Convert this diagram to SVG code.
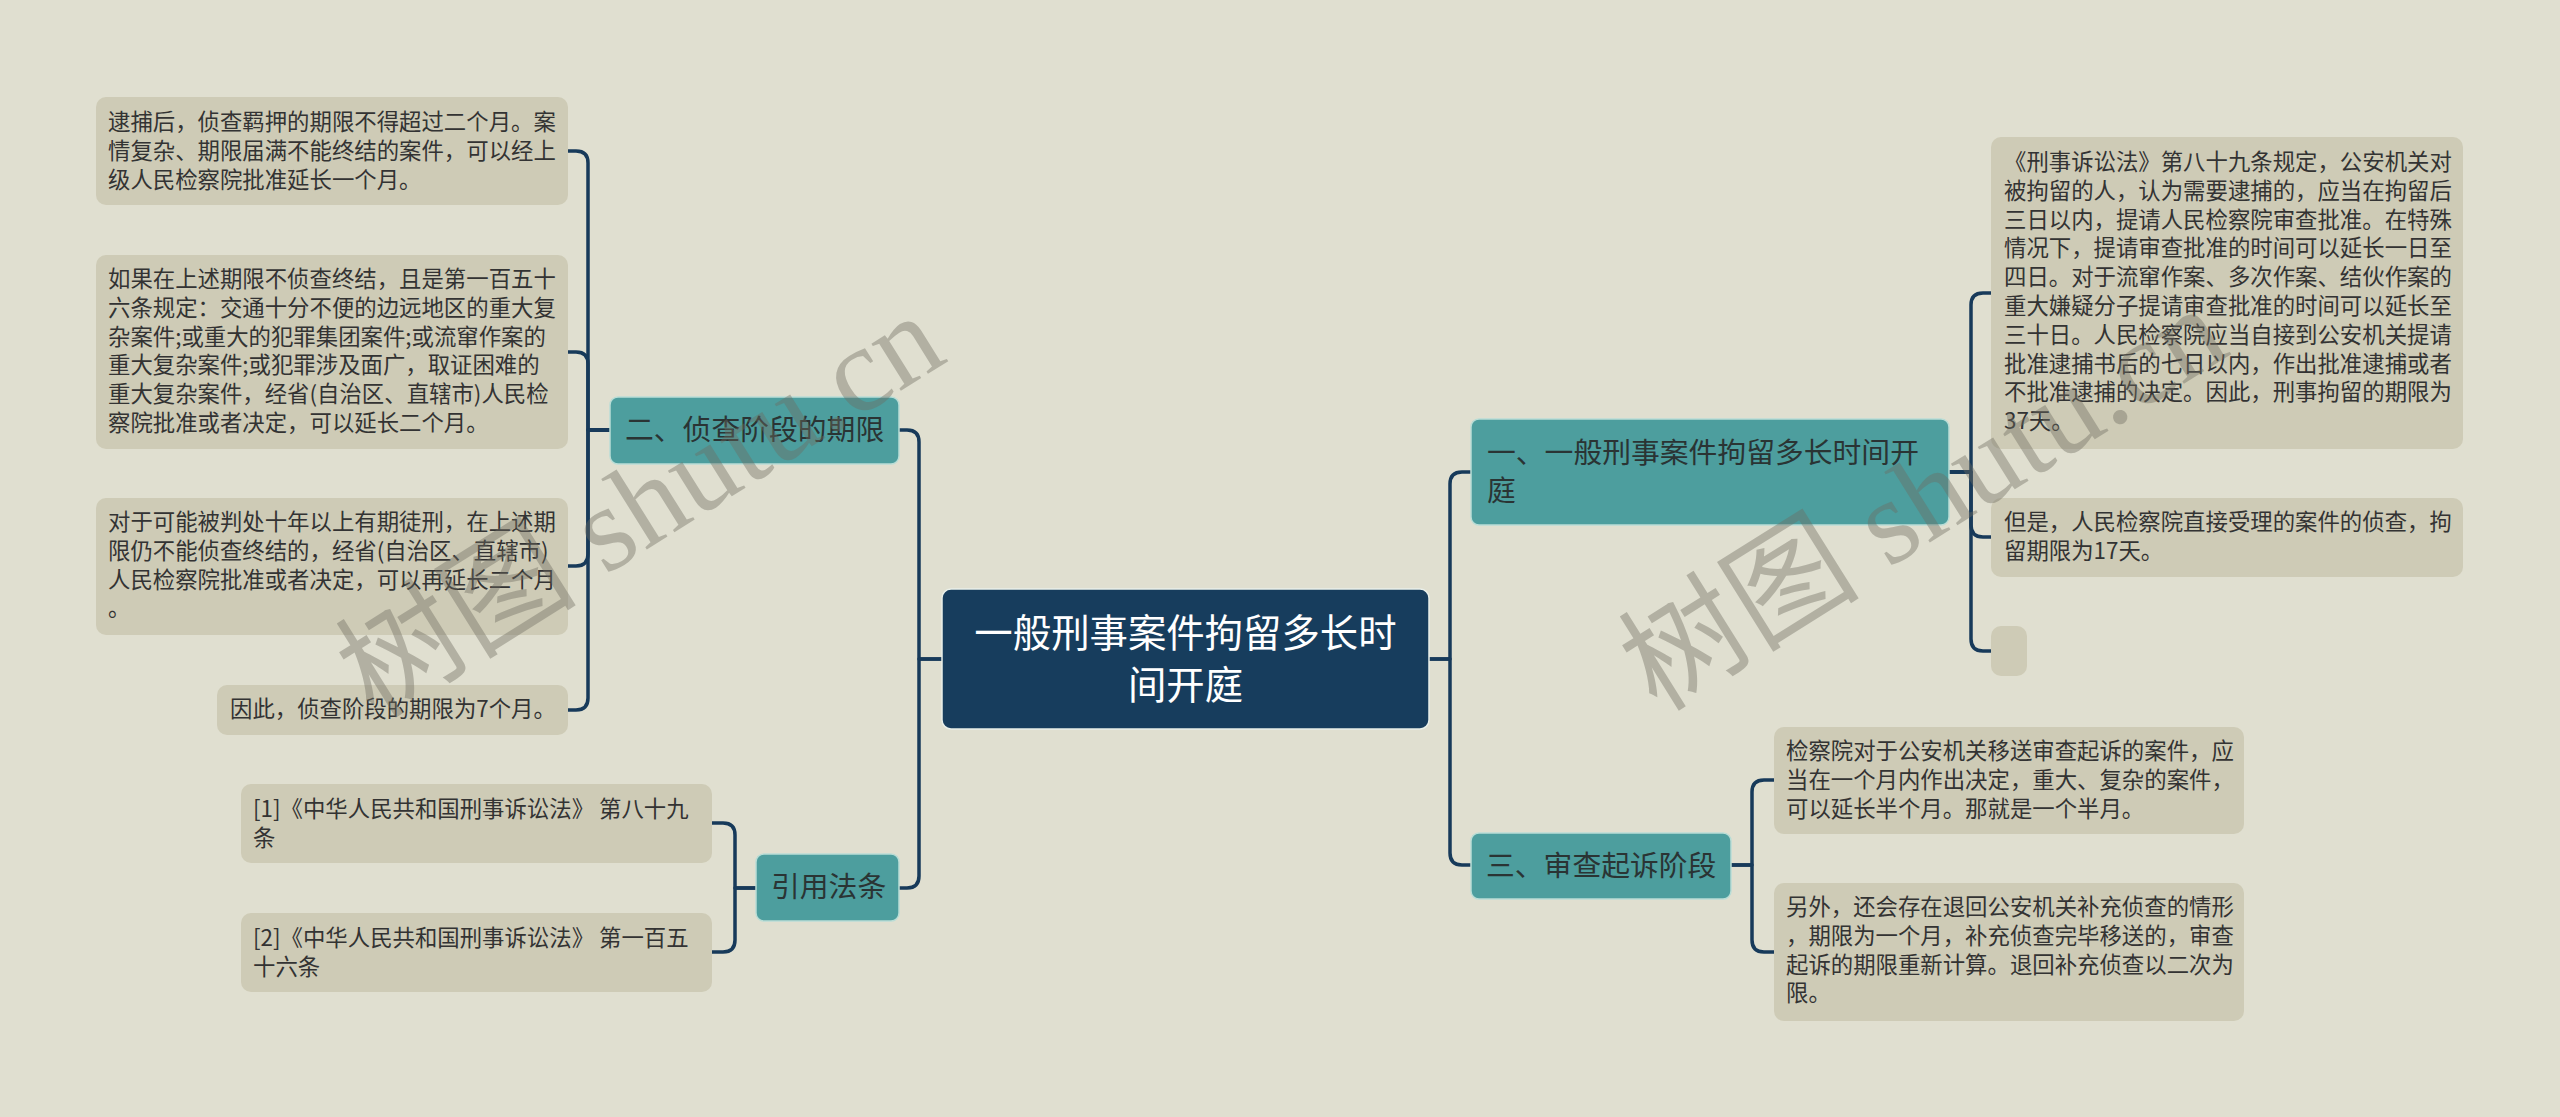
<svg xmlns="http://www.w3.org/2000/svg" width="2560" height="1117" viewBox="0 0 2560 1117">
<style>
.bg{fill:#e0dfd0}
.leaf rect{fill:#cecbb6}
.leaf text{font-family:"Noto Sans CJK SC","Noto Sans",sans-serif;font-size:22.4px;fill:#333333}
.branch rect{fill:#4d9e9e;stroke:#b9ddd6;stroke-width:1.5}
.branch text{font-family:"Noto Sans CJK SC","Noto Sans",sans-serif;font-size:28.8px;fill:#2a3434}
.root rect{fill:#173d5d;stroke:#e9efe9;stroke-width:1.5}
.root text{font-family:"Noto Sans CJK SC","Noto Sans",sans-serif;font-size:38.4px;fill:#ffffff;text-anchor:middle}
.conn path{fill:none;stroke:#173a5a;stroke-width:3.5;stroke-linecap:round;stroke-linejoin:round}
.wm{font-family:"Liberation Serif","Noto Sans CJK SC",serif;font-size:121px;fill:#6e6c60;opacity:0.4}
</style>
<rect class="bg" x="0" y="0" width="2560" height="1117"/>

<g id="connectors" class="conn">
<path d="M942 659 H919 V442 Q919 430 907 430 H899"/>
<path d="M942 659 H919 V876 Q919 888 907 888 H898"/>
<path d="M1429 659 H1450 V484 Q1450 472 1462 472 H1471"/>
<path d="M1429 659 H1450 V853 Q1450 865 1462 865 H1471"/>
<path d="M610 430 H588 V163 Q588 151 576 151 H568"/>
<path d="M610 430 H588 V364 Q588 352 576 352 H568"/>
<path d="M610 430 H588 V554 Q588 566 576 566 H568"/>
<path d="M610 430 H588 V698 Q588 710 576 710 H568"/>
<path d="M756 888 H735 V835 Q735 823 723 823 H712"/>
<path d="M756 888 H735 V940 Q735 952 723 952 H712"/>
<path d="M1949 472 H1971 V305 Q1971 293 1983 293 H1991"/>
<path d="M1949 472 H1971 V525 Q1971 537 1983 537 H1991"/>
<path d="M1949 472 H1971 V639 Q1971 651 1983 651 H1991"/>
<path d="M1731 865 H1752 V792 Q1752 780 1764 780 H1774"/>
<path d="M1731 865 H1752 V940 Q1752 952 1764 952 H1774"/>
</g>

<g id="root" class="root">
<rect x="942" y="589" width="487" height="140" rx="9"/>
<text x="1185.5" y="647">一般刑事案件拘留多长时</text>
<text x="1185.5" y="699">间开庭</text>
</g>

<g id="branch-2" class="branch">
<rect x="610" y="397" width="289" height="67" rx="8"/>
<text x="625" y="440">二、侦查阶段的期限</text>
</g>
<g id="branch-ref" class="branch">
<rect x="756" y="854" width="143" height="67" rx="8"/>
<text x="771" y="897">引用法条</text>
</g>
<g id="branch-1" class="branch">
<rect x="1471" y="419" width="478" height="106" rx="8"/>
<text x="1487" y="463">一、一般刑事案件拘留多长时间开</text>
<text x="1487" y="501">庭</text>
</g>
<g id="branch-3" class="branch">
<rect x="1471" y="833" width="260" height="66" rx="8"/>
<text x="1486" y="876">三、审查起诉阶段</text>
</g>

<g id="leaf-l1" class="leaf">
<rect x="96" y="97" width="472" height="108" rx="10"/>
<text x="108" y="130">逮捕后，侦查羁押的期限不得超过二个月。案</text>
<text x="108" y="158.8">情复杂、期限届满不能终结的案件，可以经上</text>
<text x="108" y="187.6">级人民检察院批准延长一个月。</text>
</g>
<g id="leaf-l2" class="leaf">
<rect x="96" y="255" width="472" height="194" rx="10"/>
<text x="108" y="287">如果在上述期限不侦查终结，且是第一百五十</text>
<text x="108" y="315.8">六条规定：交通十分不便的边远地区的重大复</text>
<text x="108" y="344.6">杂案件;或重大的犯罪集团案件;或流窜作案的</text>
<text x="108" y="373.4">重大复杂案件;或犯罪涉及面广，取证困难的</text>
<text x="108" y="402.2">重大复杂案件，经省(自治区、直辖市)人民检</text>
<text x="108" y="431">察院批准或者决定，可以延长二个月。</text>
</g>
<g id="leaf-l3" class="leaf">
<rect x="96" y="498" width="472" height="137" rx="10"/>
<text x="108" y="530">对于可能被判处十年以上有期徒刑，在上述期</text>
<text x="108" y="558.8">限仍不能侦查终结的，经省(自治区、直辖市)</text>
<text x="108" y="587.6">人民检察院批准或者决定，可以再延长二个月</text>
<text x="108" y="616.4">。</text>
</g>
<g id="leaf-l4" class="leaf">
<rect x="217" y="685" width="351" height="50" rx="10"/>
<text x="230" y="717">因此，侦查阶段的期限为7个月。</text>
</g>
<g id="leaf-ref1" class="leaf">
<rect x="241" y="784" width="471" height="79" rx="10"/>
<text x="253" y="817">[1]《中华人民共和国刑事诉讼法》 第八十九</text>
<text x="253" y="845.8">条</text>
</g>
<g id="leaf-ref2" class="leaf">
<rect x="241" y="913" width="471" height="79" rx="10"/>
<text x="253" y="946">[2]《中华人民共和国刑事诉讼法》 第一百五</text>
<text x="253" y="974.8">十六条</text>
</g>

<g id="leaf-r1" class="leaf">
<rect x="1991" y="137" width="472" height="312" rx="10"/>
<text x="2004" y="170">《刑事诉讼法》第八十九条规定，公安机关对</text>
<text x="2004" y="198.8">被拘留的人，认为需要逮捕的，应当在拘留后</text>
<text x="2004" y="227.6">三日以内，提请人民检察院审查批准。在特殊</text>
<text x="2004" y="256.4">情况下，提请审查批准的时间可以延长一日至</text>
<text x="2004" y="285.2">四日。对于流窜作案、多次作案、结伙作案的</text>
<text x="2004" y="314">重大嫌疑分子提请审查批准的时间可以延长至</text>
<text x="2004" y="342.8">三十日。人民检察院应当自接到公安机关提请</text>
<text x="2004" y="371.6">批准逮捕书后的七日以内，作出批准逮捕或者</text>
<text x="2004" y="400.4">不批准逮捕的决定。因此，刑事拘留的期限为</text>
<text x="2004" y="429.2">37天。</text>
</g>
<g id="leaf-r2" class="leaf">
<rect x="1991" y="498" width="472" height="79" rx="10"/>
<text x="2004" y="530">但是，人民检察院直接受理的案件的侦查，拘</text>
<text x="2004" y="558.8">留期限为17天。</text>
</g>
<g id="leaf-r3" class="leaf">
<rect x="1991" y="626" width="36" height="50" rx="10"/>
</g>
<g id="leaf-r4" class="leaf">
<rect x="1774" y="727" width="470" height="107" rx="10"/>
<text x="1786" y="759">检察院对于公安机关移送审查起诉的案件，应</text>
<text x="1786" y="787.8">当在一个月内作出决定，重大、复杂的案件，</text>
<text x="1786" y="816.6">可以延长半个月。那就是一个半月。</text>
</g>
<g id="leaf-r5" class="leaf">
<rect x="1774" y="883" width="470" height="138" rx="10"/>
<text x="1786" y="915">另外，还会存在退回公安机关补充侦查的情形</text>
<text x="1786" y="943.8">，期限为一个月，补充侦查完毕移送的，审查</text>
<text x="1786" y="972.6">起诉的期限重新计算。退回补充侦查以二次为</text>
<text x="1786" y="1001.4">限。</text>
</g>

<g id="watermarks">
<text class="wm" transform="translate(374 720) rotate(-32)">树图 shutu.cn</text>
<text class="wm" transform="translate(1657 713) rotate(-32)">树图 shutu.cn</text>
</g>
</svg>
